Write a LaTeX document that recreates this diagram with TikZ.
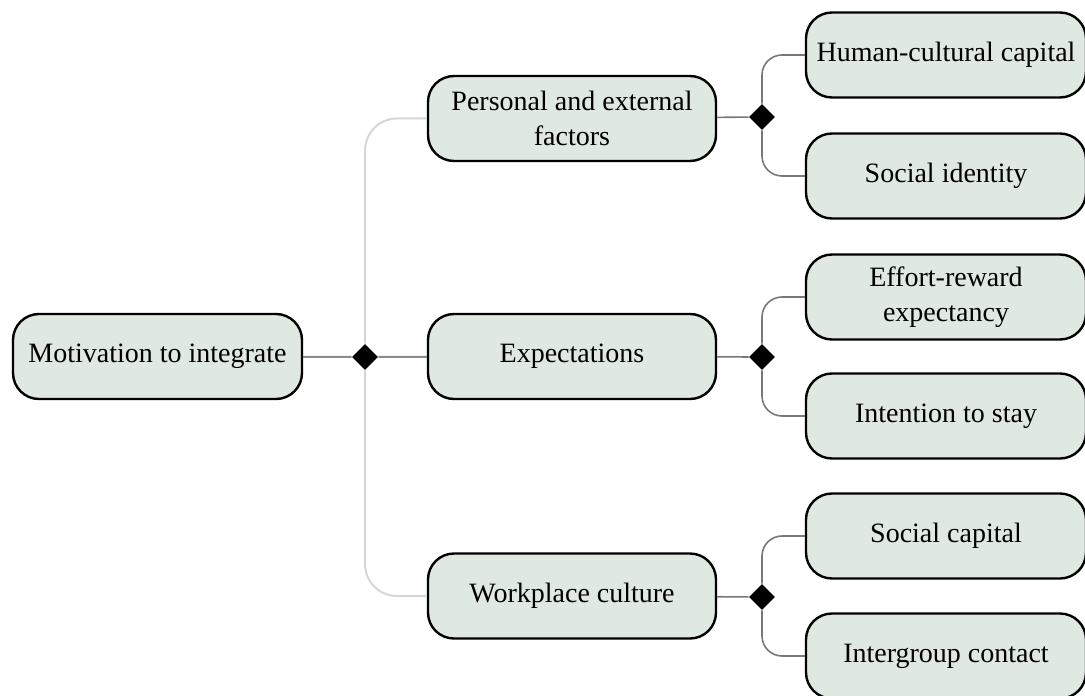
\documentclass[tikz,border=0pt]{standalone}
\usepackage{fontspec}
\setmainfont{Liberation Serif}
\usepackage{xcolor}
\usetikzlibrary{shapes.geometric}

\definecolor{boxfill}{RGB}{223,232,225}
\definecolor{linkdark}{RGB}{140,140,140}
\definecolor{linklight}{RGB}{214,214,214}
\definecolor{linkmid}{RGB}{120,120,120}

\tikzset{
	topic/.style={draw, line width=1.2pt, fill=boxfill, rounded corners=13pt, align=center, minimum height=42.5pt, inner sep=2pt, font=\fontsize{14}{17.5}\selectfont},
	rootbox/.style={topic, minimum width=144.5pt},
	midbox/.style={topic, minimum width=144pt},
	leafbox/.style={topic, minimum width=140pt},
	junction/.style={diamond, fill=black, inner sep=0pt, minimum width=13pt, minimum height=13pt},
	firstlink/.style={line width=1pt, rounded corners=16pt},
	secondlink/.style={linkmid, line width=0.8pt, rounded corners=10pt}
}

\begin{document}
\begin{tikzpicture}[x=0.5pt,y=-0.5pt]
		\useasboundingbox (0,0) rectangle (1085,695);
		
		% root and first level
		\node[rootbox] (motiv) at (157.5,356.5) {Motivation to integrate};
		\node[junction] (jroot) at (365,357) {};
		\node[midbox] (pef) at (572,118.5) {Personal and external\\factors};
		\node[midbox] (expt) at (572,356.5) {Expectations};
		\node[midbox] (wpc) at (572,596) {Workplace culture};
		
		\draw[firstlink, linkdark] (motiv) -- (jroot) -- (expt);
		\draw[firstlink, linklight] (jroot.north) |- (pef.west);
		\draw[firstlink, linklight] (jroot.south) |- (wpc.west);
		
		% second level
		\foreach \n/\y/\t in {hcc/55/{Human-cultural capital}, sid/176/{Social identity}, erx/297/{Effort-reward\\expectancy}, its/416/{Intention to stay}, sca/536/{Social capital}, igc/656/{Intergroup contact}}
		{
		\node[leafbox] (\n) at (946,\y) {\t};
		}
		
		\foreach \m/\j/\y/\a/\b in {pef/jp/117/hcc/sid, expt/je/357/erx/its, wpc/jw/597/sca/igc}
		{
		\node[junction] (\j) at (762,\y) {};
		\draw[secondlink] (\m) -- (\j);
		\draw[secondlink] (\j.north) |- (\a.west);
		\draw[secondlink] (\j.south) |- (\b.west);
		}
\end{tikzpicture}
\end{document}
